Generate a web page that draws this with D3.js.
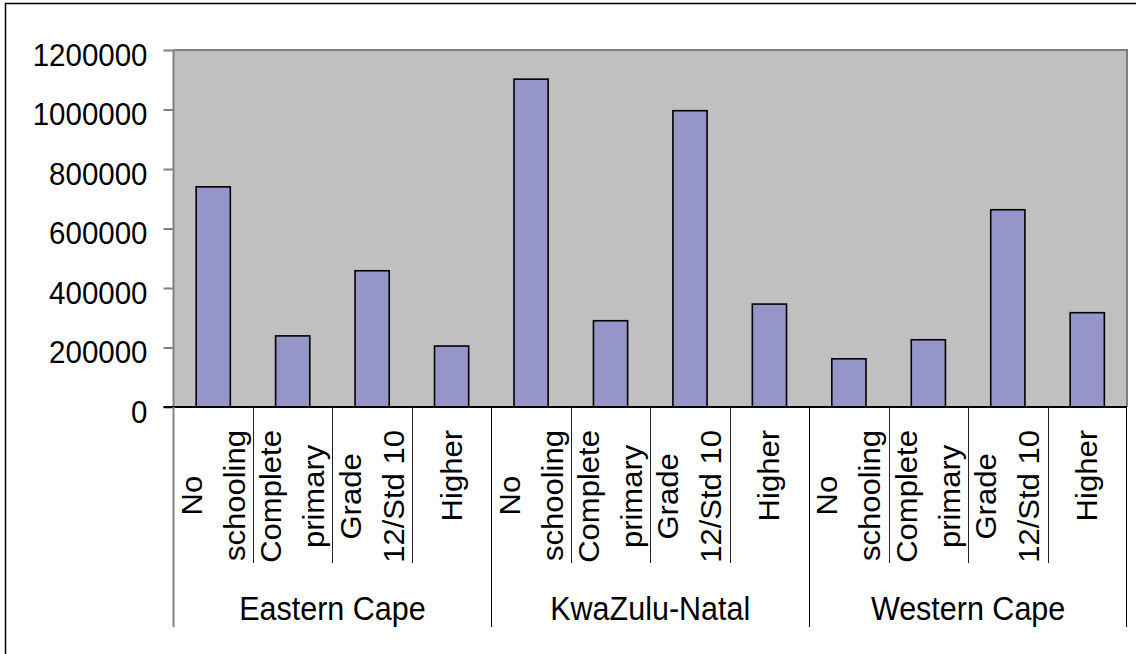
<!DOCTYPE html>
<html>
<head>
<meta charset="utf-8">
<script src="https://cdn.jsdelivr.net/npm/d3@7"></script>
<style>
  html, body { margin: 0; padding: 0; background: #ffffff; }
  svg { display: block; font-family: "Liberation Sans", Arial, sans-serif; }
</style>
</head>
<body>
<svg id="chart" width="1136" height="654"></svg>
<script>
// ---- data ----
const groups = ["Eastern Cape", "KwaZulu-Natal", "Western Cape"];
const levels = ["No schooling", "Complete primary", "Grade 12/Std 10", "Higher"];
const levelLines = [["No", "schooling"], ["Complete", "primary"], ["Grade", "12/Std 10"], ["Higher"]];
const easternCape = [740000, 239000, 458000, 205000];
const kwaZuluNatal = [1102000, 290000, 996000, 346000];
const westernCape = [162000, 226000, 663000, 317000];
const yTicks = [0, 200000, 400000, 600000, 800000, 1000000, 1200000];

const seriesByGroup = [easternCape, kwaZuluNatal, westernCape];
const rows = [];
groups.forEach((g, gi) => levels.forEach((l, li) => rows.push({
  key: gi + "-" + li, group: g, gi, li, lines: levelLines[li], value: seriesByGroup[gi][li]
})));

// ---- layout ----
const svg = d3.select("#chart");
const L = 173.5, R = 1127, T = 50, B = 407;
const stretch = 1.07; // glyphs in the reference are slightly taller than wide
const x = d3.scaleBand().domain(rows.map(d => d.key)).range([L, R]).padding(0);
const y = d3.scaleLinear().domain([0, 1200000]).range([B, T]);
const barW = x.bandwidth() * 0.43;

// outer border
svg.append("rect").attr("x", 5.5).attr("y", 3.5).attr("width", 1140).attr("height", 660)
  .attr("fill", "none").attr("stroke", "#000").attr("stroke-width", 1.5);

// plot area
svg.append("rect").attr("x", L).attr("y", T).attr("width", R - L).attr("height", B - T)
  .attr("fill", "#c0c0c0");
svg.append("path").attr("d", `M${L},${T}H${R}V${B}`).attr("fill", "none")
  .attr("stroke", "#808080").attr("stroke-width", 2);

// bars
svg.append("g").selectAll("rect").data(rows).join("rect")
  .attr("x", d => x(d.key) + (x.bandwidth() - barW) / 2)
  .attr("y", d => y(d.value))
  .attr("width", barW)
  .attr("height", d => y(0) - y(d.value))
  .attr("fill", "#9595c9")
  .attr("stroke", "#000").attr("stroke-width", 1.6);

// y axis
const yAxis = svg.append("g").attr("transform", `translate(${L},0)`)
  .call(d3.axisLeft(y).tickValues(yTicks).tickSize(10).tickPadding(16).tickFormat(d3.format("d")));
yAxis.select(".domain").remove();
yAxis.selectAll(".tick line").attr("stroke", "#808080").attr("stroke-width", 2);
yAxis.selectAll(".tick text").attr("font-size", 29.5).attr("fill", "#000")
  .attr("dy", null).attr("y", 0)
  .attr("transform", `translate(0,15) scale(1,${stretch})`)
  .attr("font-family", "Liberation Sans, Arial, sans-serif");
svg.append("line").attr("x1", L).attr("x2", L).attr("y1", T).attr("y2", B)
  .attr("stroke", "#808080").attr("stroke-width", 2);

// x axis line
svg.append("line").attr("x1", L - 10).attr("x2", R).attr("y1", B).attr("y2", B)
  .attr("stroke", "#000").attr("stroke-width", 2);

// category dividers
const minorBottom = 563, groupBottom = 627;
rows.forEach((d, i) => {
  if (i === 0) return;
  const xx = Math.round(x(d.key)) + 0.5;
  const isGroup = d.li === 0;
  svg.append("line").attr("x1", xx).attr("x2", xx).attr("y1", B).attr("y2", isGroup ? groupBottom : minorBottom)
    .attr("stroke", isGroup ? "#000" : "#222").attr("stroke-width", 1);
});
svg.append("line").attr("x1", L).attr("x2", L).attr("y1", B).attr("y2", groupBottom)
  .attr("stroke", "#808080").attr("stroke-width", 2);
svg.append("line").attr("x1", R - 0.5).attr("x2", R - 0.5).attr("y1", B).attr("y2", groupBottom)
  .attr("stroke", "#000").attr("stroke-width", 1);

// category labels (rotated)
const labelTop = 430, lineGap = 43, catFont = 29;
const catG = svg.append("g");
rows.forEach(d => {
  const cx = x(d.key) + x.bandwidth() / 2;
  const g = catG.append("g");
  const texts = d.lines.map((ln, k) => g.append("text").text(ln)
    .attr("font-size", catFont).attr("text-anchor", "middle").attr("fill", "#000"));
  const maxLen = d3.max(texts, t => t.node().getComputedTextLength()) * stretch;
  const cy = labelTop + maxLen / 2;
  const n = d.lines.length;
  texts.forEach((t, k) => {
    const off = (k - (n - 1) / 2) * lineGap + 10;
    t.attr("transform", `translate(${cx + off},${cy}) scale(1,${stretch}) rotate(-90)`);
  });
});

// group labels
groups.forEach((g, gi) => {
  const first = x(gi + "-0"), last = x(gi + "-3") + x.bandwidth();
  svg.append("text").text(g)
    .attr("transform", `translate(${(first + last) / 2},620) scale(1,${stretch})`)
    .attr("text-anchor", "middle").attr("font-size", 30.5).attr("fill", "#000");
});
</script>
</body>
</html>
